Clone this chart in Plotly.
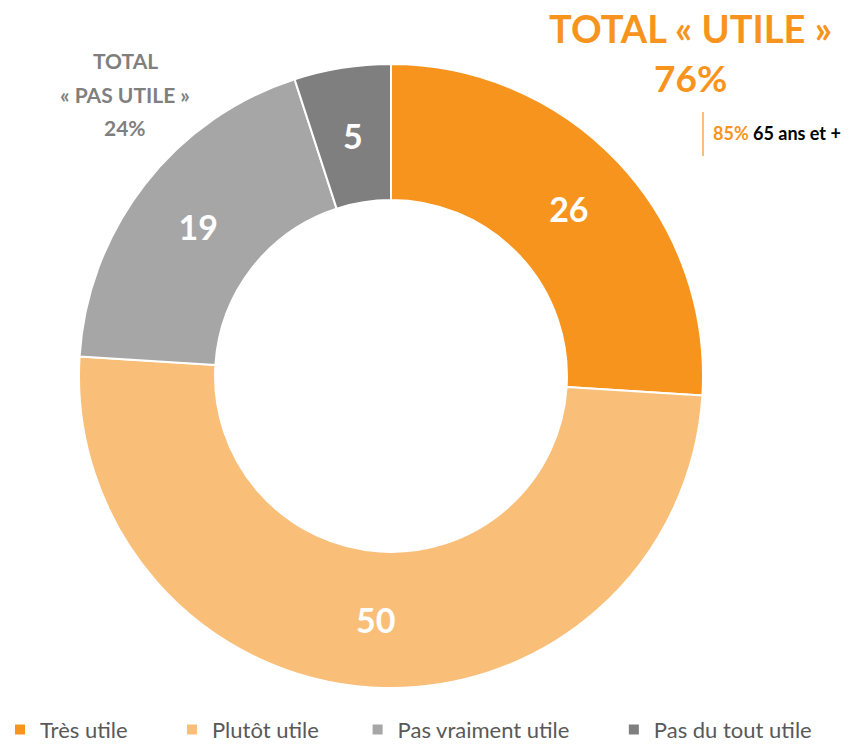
import math
import plotly.graph_objects as go

labels = ["Très utile", "Plutôt utile", "Pas vraiment utile", "Pas du tout utile"]
values = [26, 50, 19, 5]
colors = ["#F7941D", "#F9BE78", "#A6A6A6", "#7F7F7F"]
legend_pad = [7, 6, 7, 0]

total_utile = "76%"
total_pas_utile = "24%"
sub_pct = "85%"
sub_label = "65 ans et +"

W, H = 851, 747
cx, cy, R = 391, 376, 312
HOLE = 0.564

# the smallest slice gets its label placed at mid-ring like the others
small = [i for i, v in enumerate(values) if v < 10]
textpos = ["none" if i in small else "inside" for i in range(len(values))]

fig = go.Figure()
fig.add_trace(go.Pie(
    labels=[l + "\u00a0" * p for l, p in zip(labels, legend_pad)],
    values=values,
    sort=False,
    direction="clockwise",
    rotation=0,
    hole=HOLE,
    marker=dict(colors=colors, line=dict(color="white", width=2)),
    textinfo="value",
    textposition=textpos,
    insidetextorientation="horizontal",
    textfont=dict(family="Lato", size=34, color="white", weight="bold"),
    domain=dict(x=[(cx - R) / W, (cx + R) / W], y=[1 - (cy + R) / H, 1 - (cy - R) / H]),
    hoverinfo="label+value",
))

def ann(x, y, text, size, color, xanchor="center"):
    fig.add_annotation(x=x / W, y=1 - y / H, xref="paper", yref="paper", xanchor=xanchor,
                       yanchor="middle", text=text, showarrow=False,
                       font=dict(family="Lato", size=size, color=color, weight="bold"))

total = sum(values)
cum = 0
for i, v in enumerate(values):
    mid = (cum + v / 2) / total * 2 * math.pi
    cum += v
    if i in small:
        r = R * (1 + HOLE) / 2
        ann(cx + r * math.sin(mid), cy - r * math.cos(mid), str(v), 34, "white")

ann(690, 28, "TOTAL « UTILE »", 38, "#F7941D")
ann(690, 78, total_utile, 37, "#F7941D")
ann(125, 60, "TOTAL", 21, "#7F7F7F")
ann(125, 94, "« PAS UTILE »", 21, "#7F7F7F")
ann(125, 127, total_pas_utile, 21, "#7F7F7F")
ann(711, 133, f"<span style='color:#F7941D'>{sub_pct}</span> {sub_label}", 18, "#000000", xanchor="left")

fig.add_shape(type="line", xref="paper", yref="paper",
              x0=703 / W, x1=703 / W, y0=1 - 112 / H, y1=1 - 156 / H,
              line=dict(color="#F9BE78", width=2))

fig.update_layout(
    width=W, height=H,
    margin=dict(l=0, r=0, t=0, b=0, autoexpand=False),
    paper_bgcolor="white", plot_bgcolor="white",
    showlegend=True,
    legend=dict(orientation="h", x=0, xanchor="left", y=-0.005, yanchor="bottom",
                font=dict(family="Lato", size=22, color="#595959"),
                itemclick=False),
)

fig.write_html("out.html", config={"displayModeBar": False},
               post_script="document.body.style.margin='0';document.body.style.overflow='hidden';")
